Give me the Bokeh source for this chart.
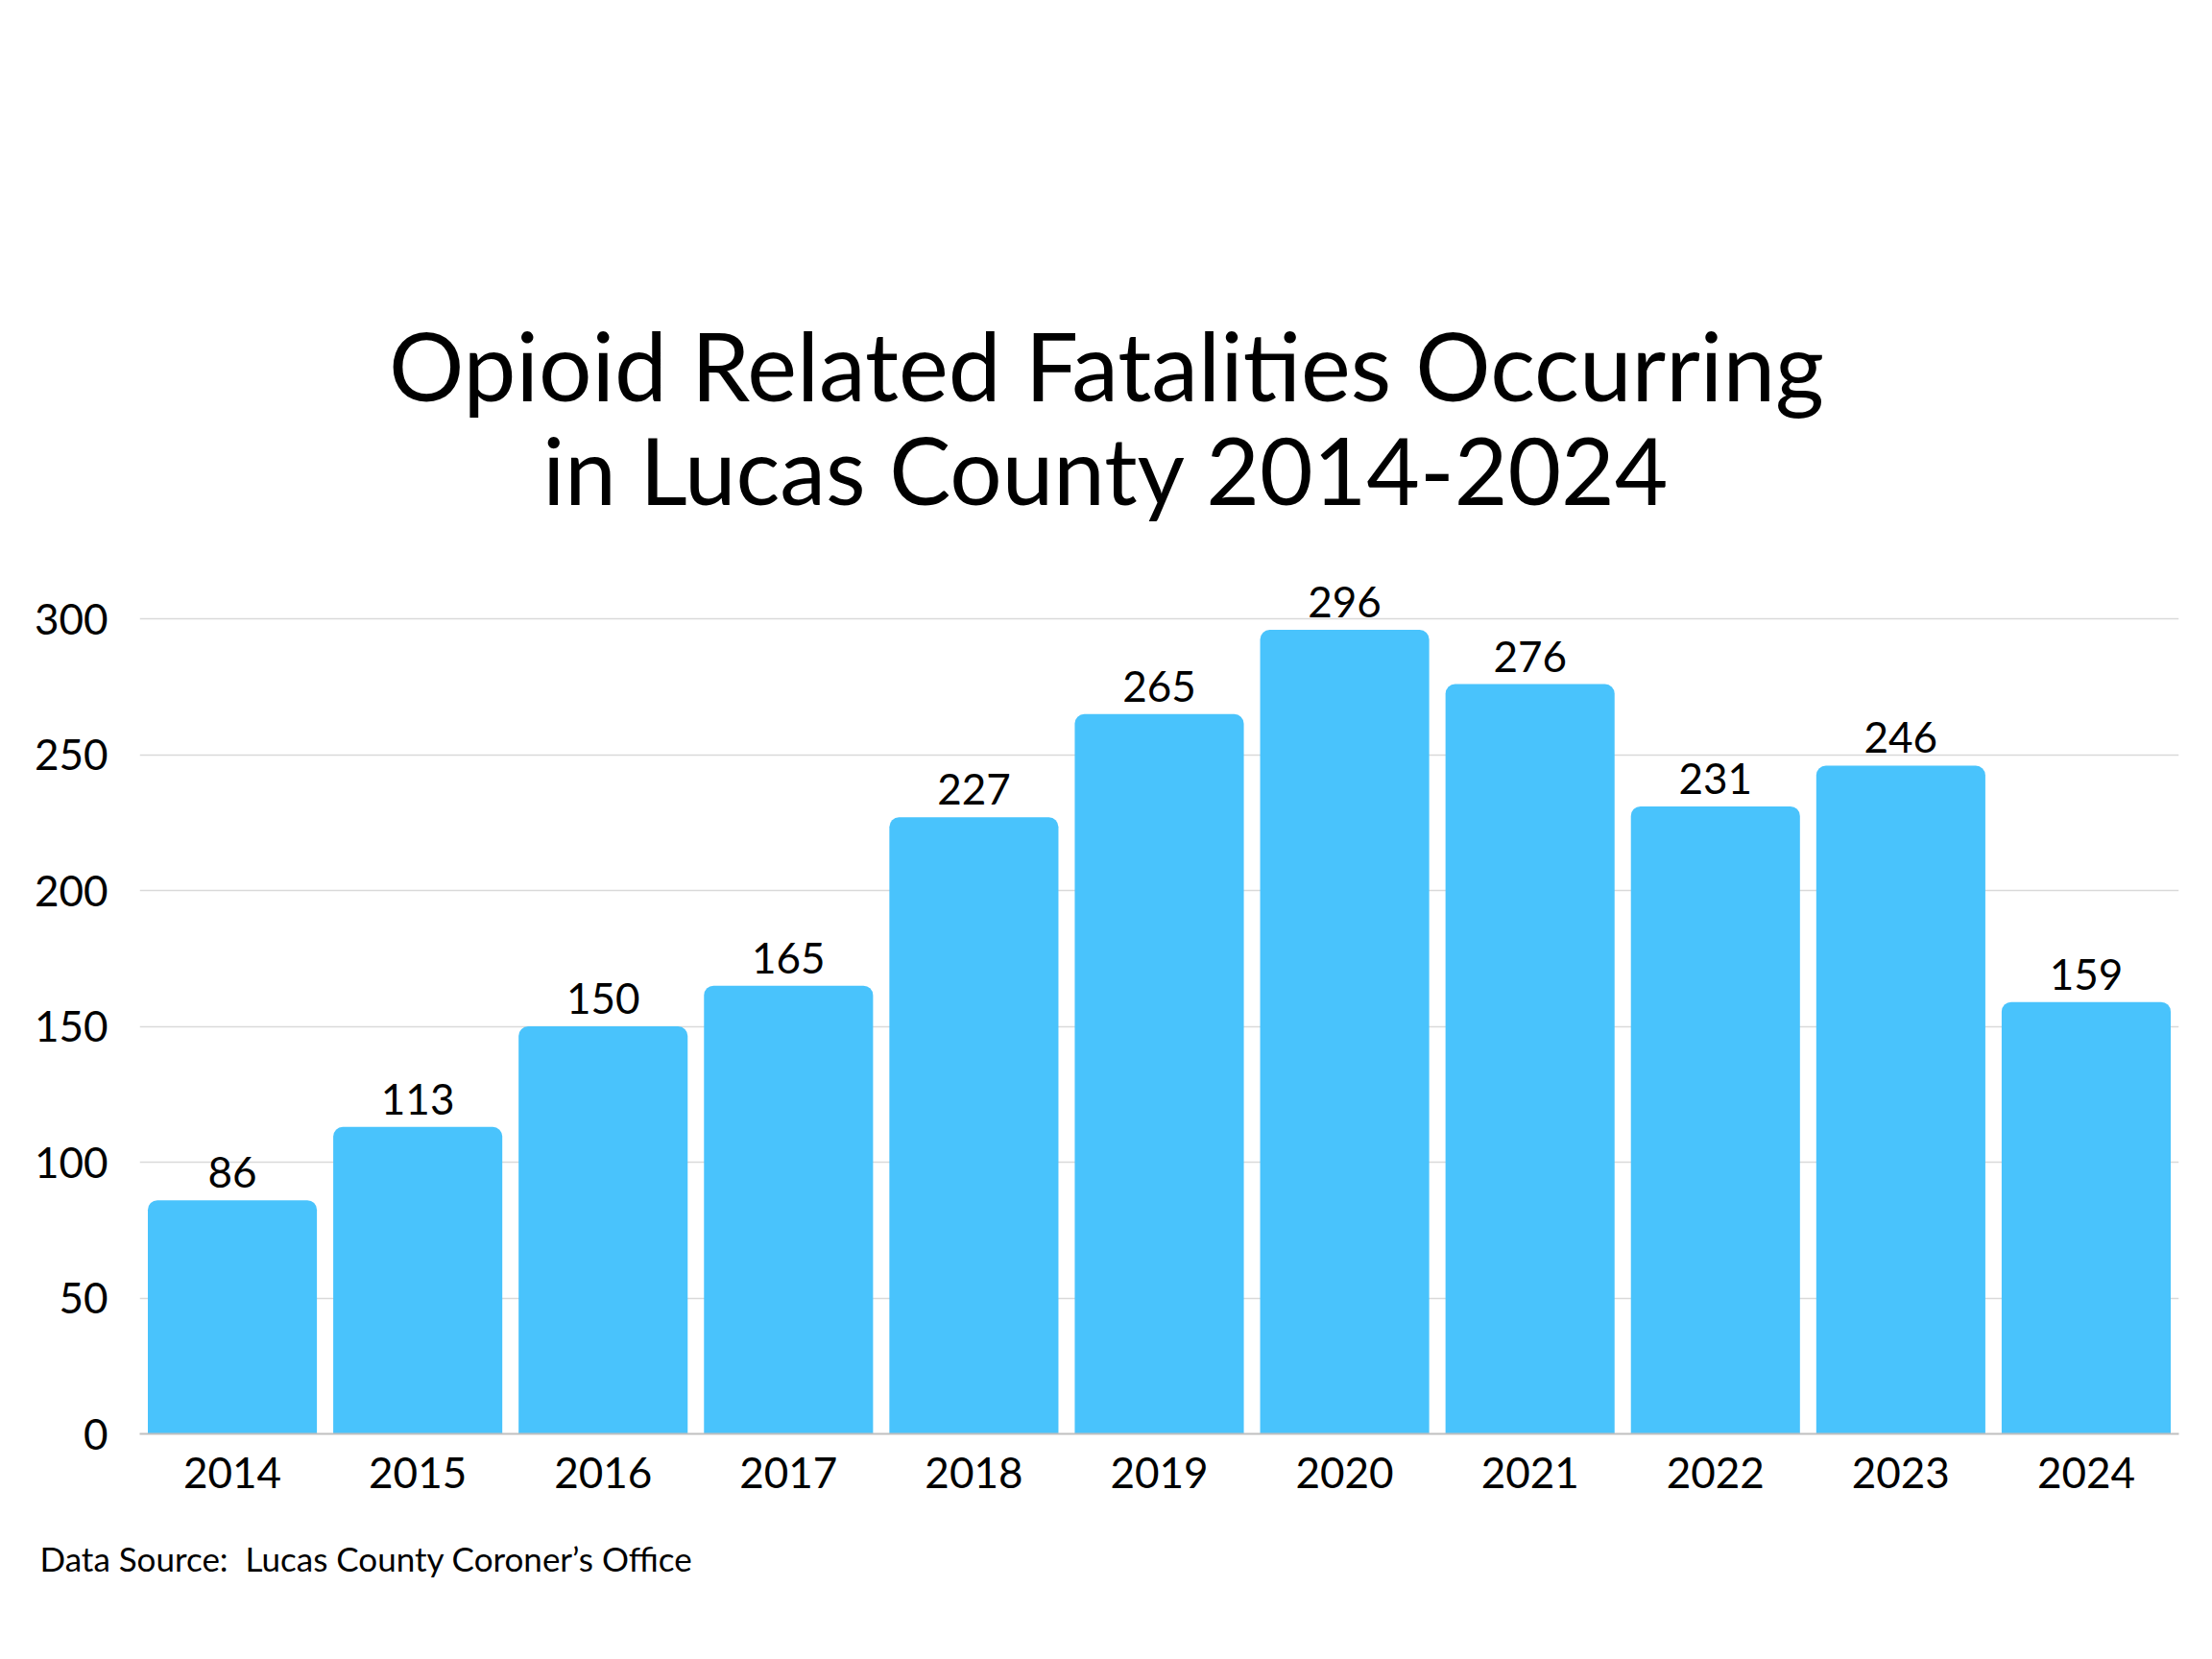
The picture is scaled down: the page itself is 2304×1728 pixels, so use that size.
from bokeh.plotting import figure
from bokeh.models import FactorRange, Range1d, FixedTicker, LabelSet, Label, ColumnDataSource, Title
from bokeh.core.properties import value
from bokeh.embed import file_html
from bokeh.resources import INLINE

years = ["2014", "2015", "2016", "2017", "2018", "2019", "2020", "2021", "2022", "2023", "2024"]
fatalities = [86, 113, 150, 165, 227, 265, 296, 276, 231, 246, 159]
y_ticks = [0, 50, 100, 150, 200, 250, 300]
title_lines = ["Opioid Related Fatalities Occurring", "in Lucas County 2014-2024"]
source_note = "Data Source:\u00a0 Lucas County Coroner\u2019s Office"

FONT = "Lato"
BAR_COLOR = "#49C3FC"

src = ColumnDataSource(dict(x=years, y=fatalities, label=[str(v) for v in fatalities]))

p = figure(
    x_range=FactorRange(*years, range_padding=0),
    y_range=Range1d(0, 422),
    frame_width=2124, frame_height=1194,
    min_border_left=145, min_border_right=27,
    min_border_top=299, min_border_bottom=220,
    output_backend="svg", toolbar_location=None,
)
p.outline_line_color = None
p.background_fill_color = "white"
p.border_fill_color = "white"

p.vbar(x="x", top="y", width=0.912, source=src, fill_color=BAR_COLOR,
       line_color=None, border_radius=(10, 10, 0, 0))

# axes
p.yaxis.ticker = FixedTicker(ticks=y_ticks)
p.yaxis.axis_line_color = None
p.yaxis.major_tick_line_color = None
p.yaxis.minor_tick_line_color = None
p.yaxis.major_label_text_font = FONT
p.yaxis.major_label_text_font_size = "44px"
p.yaxis.major_label_text_color = "#000000"
p.yaxis.major_label_standoff = 27

p.xaxis.axis_line_color = "#bfbfbf"
p.xaxis.axis_line_width = 2
p.xaxis.major_tick_line_color = None
p.xaxis.minor_tick_line_color = None
p.xaxis.major_label_text_font = FONT
p.xaxis.major_label_text_font_size = "44px"
p.xaxis.major_label_text_color = "#000000"
p.xaxis.major_label_standoff = 18

p.xgrid.grid_line_color = None
p.ygrid.grid_line_color = "#d9d9d9"
p.ygrid.grid_line_width = 1.5

labels = LabelSet(x="x", y="y", text="label", source=src, y_offset=13,
                  text_align="center", text_baseline="alphabetic",
                  text_font=value(FONT), text_font_size=value("44px"), text_color="#000000")
p.add_layout(labels)

# two-line title, positioned in frame-relative screen units (frame extends above the bars)
for txt, yy, fs in zip(title_lines, [1114, 1005], ["98px", "96px"]):
    p.add_layout(Label(x=1007, y=yy, x_units="screen", y_units="screen", text=txt,
                       text_align="center", text_baseline="alphabetic",
                       text_font=FONT, text_font_size=fs, text_color="#000000"))

note = Title(text=source_note, align="left", offset=-104, text_font=FONT,
             text_font_size="35px", text_font_style="normal", text_color="#000000", standoff=94)
p.add_layout(note, "below")

open("out.html", "w").write(file_html(p, INLINE))
